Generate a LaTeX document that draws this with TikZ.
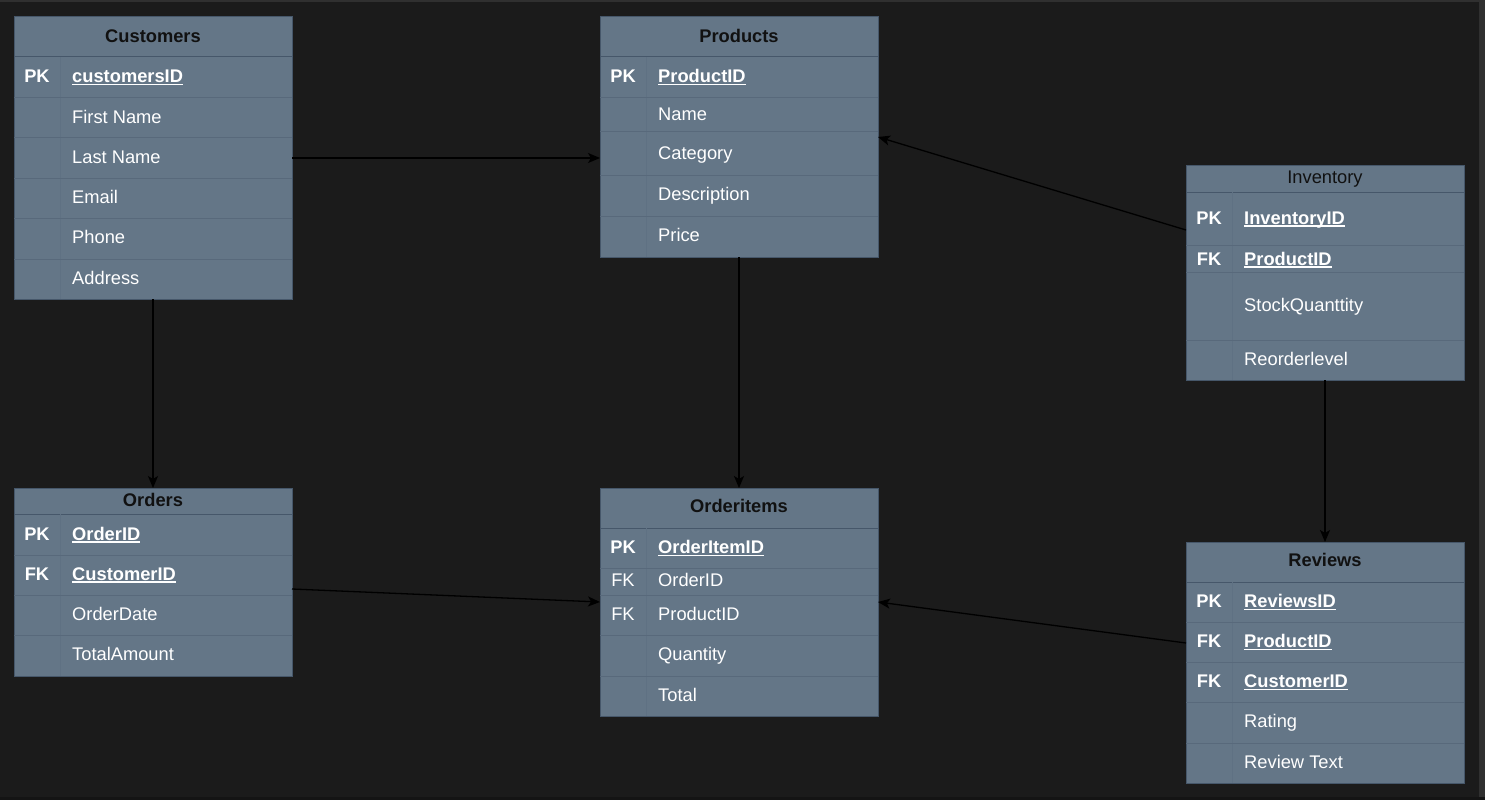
\documentclass[tikz,border=0pt]{standalone}
\usepackage{fontspec}
\setmainfont{Liberation Sans}
\usetikzlibrary{arrows.meta}

\definecolor{canvas}{RGB}{27,27,27}
\definecolor{slate}{HTML}{647687}
\definecolor{slateedge}{HTML}{46576A}
\definecolor{slaterow}{HTML}{58697B}
\definecolor{slatecol}{HTML}{5F7183}
\definecolor{headtext}{HTML}{111111}
\definecolor{edgegray}{RGB}{48,48,48}

% font used in all tables
\newcommand\erfont{\fontsize{18.3}{22}\selectfont}
% key field: bold with a rule underneath
\newcommand\keyname[1]{\setbox0\hbox{\bfseries #1}\rlap{\rule[-2.6pt]{\wd0}{1.4pt}}\box0}

% table frame: name, left, top, bottom, header bottom, row separators
\newcommand\ertable[6]{%
  \node[tablebox, minimum height={#4-#3}] (#1) at (#2,#3) {};
  \draw[headline] (#2,#5) -- ++(278,0);
  \draw[colline] (#2+46,#5) -- (#2+46,#4);
  \foreach \yy in {#6} \draw[rowline] (#2,\yy) -- ++(278,0);
}

\begin{document}
\begin{tikzpicture}[
  x=1pt, y=-1pt,
  tablebox/.style={draw=slateedge, line width=1pt, fill=slate, anchor=north west,
    minimum width=278pt, inner sep=0pt, outer sep=0pt},
  headline/.style={draw=slateedge, line width=1pt},
  rowline/.style={draw=slaterow, line width=0.8pt},
  colline/.style={draw=slatecol, line width=0.6pt},
  title/.style={font=\erfont\bfseries, text=headtext, anchor=base, inner sep=0pt},
  plaintitle/.style={font=\erfont, text=headtext, anchor=base, inner sep=0pt},
  keytxt/.style={font=\erfont\bfseries, text=white, anchor=base, inner sep=0pt},
  fktxt/.style={font=\erfont, text=white, anchor=base, inner sep=0pt},
  fieldtxt/.style={font=\erfont, text=white, anchor=base west, inner sep=0pt},
  rel/.style={draw=black, line width=1.3pt, -{Stealth[length=12pt,width=10pt,inset=3pt]}},
]
\useasboundingbox (0,0) rectangle (1485,800);
\fill[canvas] (0,0) rectangle (1485,800);
\fill[edgegray] (0,0) rectangle (1485,2);
\fill[edgegray] (1479,0) rectangle (1485,800);
\fill[black!92] (0,797) rectangle (1485,800);

% ---------- Customers ----------
\ertable{cust}{14}{17}{299}{57}{97,137,178,218,259}
\node[title] (cust-t) at (153,43) {Customers};
\node[keytxt] (cust-k1) at (37,82.7) {PK};
\foreach \f/\y [count=\i] in {{\keyname{customersID}}/82.7, First Name/123.2, Last Name/163.5,
    Email/203.5, Phone/243.5, Address/284}
  \node[fieldtxt] (cust-f\i) at (72,\y) {\f};

% ---------- Products ----------
\ertable{prod}{600}{17}{257}{57}{97,131.5,175,216}
\node[title] (prod-t) at (739,42.5) {Products};
\node[keytxt] (prod-k1) at (623,82.7) {PK};
\foreach \f/\y [count=\i] in {{\keyname{ProductID}}/82.7, Name/120, Category/159.5,
    Description/200.5, Price/241}
  \node[fieldtxt] (prod-f\i) at (658,\y) {\f};

% ---------- Inventory ----------
\ertable{inv}{1186}{165}{380}{192}{245,272.5,340}
\node[plaintitle] (inv-t) at (1325,183.3) {Inventory};
\node[keytxt] (inv-k1) at (1209,224) {PK};
\node[keytxt] (inv-k2) at (1209,265) {FK};
\foreach \f/\y [count=\i] in {{\keyname{InventoryID}}/224, {\keyname{ProductID}}/265,
    StockQuanttity/311.7, Reorderlevel/365}
  \node[fieldtxt] (inv-f\i) at (1244,\y) {\f};

% ---------- Orders ----------
\ertable{ord}{14}{488}{676}{514}{555,595,635.7}
\node[title] (ord-t) at (153,506) {Orders};
\node[keytxt] (ord-k1) at (37,540) {PK};
\node[keytxt] (ord-k2) at (37,580) {FK};
\foreach \f/\y [count=\i] in {{\keyname{OrderID}}/540, {\keyname{CustomerID}}/580,
    OrderDate/620, TotalAmount/660.7}
  \node[fieldtxt] (ord-f\i) at (72,\y) {\f};

% ---------- Orderitems ----------
\ertable{oi}{600}{488}{716}{528}{568.3,595,635.7,676.7}
\node[title] (oi-t) at (739,512.7) {Orderitems};
\node[keytxt] (oi-k1) at (623,553.3) {PK};
\node[fktxt] (oi-k2) at (623,586.7) {FK};
\node[fktxt] (oi-k3) at (623,620.7) {FK};
\foreach \f/\y [count=\i] in {{\keyname{OrderItemID}}/553.3, OrderID/586.7, ProductID/620.7,
    Quantity/660, Total/701.7}
  \node[fieldtxt] (oi-f\i) at (658,\y) {\f};

% ---------- Reviews ----------
\ertable{rev}{1186}{542}{783}{582}{622.3,662.7,702.7,743.3}
\node[title] (rev-t) at (1325,566.7) {Reviews};
\node[keytxt] (rev-k1) at (1209,607.3) {PK};
\node[keytxt] (rev-k2) at (1209,647.7) {FK};
\node[keytxt] (rev-k3) at (1209,687.7) {FK};
\foreach \f/\y [count=\i] in {{\keyname{ReviewsID}}/607.3, {\keyname{ProductID}}/647.7,
    {\keyname{CustomerID}}/687.7, Rating/727.7, Review Text/768.3}
  \node[fieldtxt] (rev-f\i) at (1244,\y) {\f};

% ---------- relationships ----------
\draw[rel] (cust.east) -- (cust.east -| prod.west);
\draw[rel] (cust.south) -- (ord.north);
\draw[rel] (prod.south) -- (oi.north);
\draw[rel] (inv.south) -- (rev.north);
\draw[rel] (inv.west |- 0,230) -- (prod.east);
\draw[rel] (ord.east |- 0,589) -- (oi.west);
\draw[rel] (rev.west |- 0,643) -- (oi.east);
\end{tikzpicture}
\end{document}
